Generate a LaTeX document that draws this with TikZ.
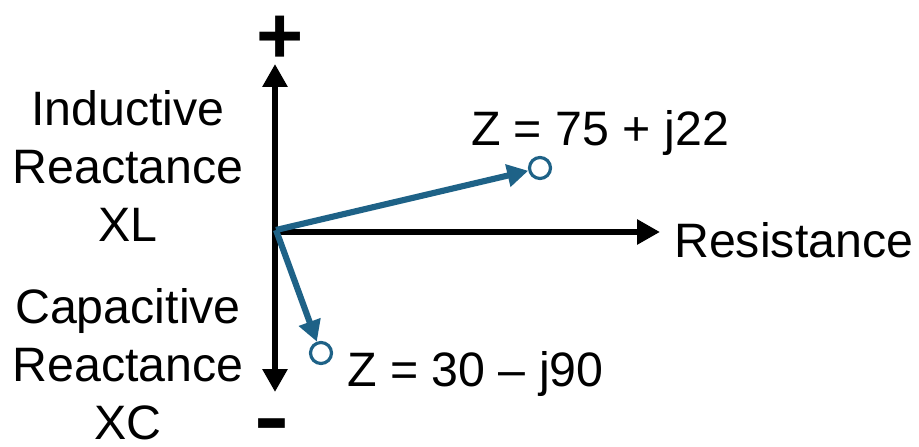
\documentclass[tikz,border=0pt]{standalone}
\usepackage{fontspec}
\setmainfont{Liberation Sans}
\usetikzlibrary{arrows.meta}
\definecolor{vecblue}{RGB}{30,98,135}

\begin{document}
\begin{tikzpicture}[x=0.02cm,y=-0.02cm,
    ahead/.tip={Triangle[length=0.46cm,width=0.48cm]},
    axis/.style={line width=3.7pt},
    vec/.style={vecblue,line width=3.5pt,-{Triangle[length=0.42cm,width=0.44cm]}},
    tip/.style={circle,draw=vecblue,line width=1.8pt,minimum size=0.42cm,inner sep=0pt},
    lbl/.style={font=\fontsize{27.5}{33}\selectfont,align=center},
    sign/.style={font=\fontsize{46}{46}\bfseries,inner sep=0pt}]
        \useasboundingbox (0,0) rectangle (919,446);
        \coordinate (O) at (276,230);
        \coordinate (top) at (275,64);
        \coordinate (bot) at (275,392);
        \coordinate (yaxis) at (275,232);
        \coordinate (right) at (660,232);
        \draw[axis,ahead-ahead] (top) -- (bot);
        \draw[axis,-ahead] (yaxis) -- (right);
        \node[tip] (z1) at (540,168) {};
        \node[tip] (z2) at (321,353) {};
        \draw[vec] (O) -- (z1);
        \draw[vec] (O) -- (z2);
        \node[lbl] (ind) at (128,166) {Inductive\\Reactance\\XL};
        \node[lbl,inner sep=1pt] (cap) at (128,364) {Capacitive\\Reactance\\XC};
        \node[lbl,right] (res) at (668,240) {Resistance};
        \node[lbl] (z1lab) at (600,133) {Z = 75 + j22};
        \node[lbl,right] (z2lab) at (341,374) {Z = 30 – j90};
        \node[sign] (plus) at (280,40) {+};
        \node[sign,xscale=1.3] (minus) at (272,432) {-};
      \end{tikzpicture}
\end{document}
